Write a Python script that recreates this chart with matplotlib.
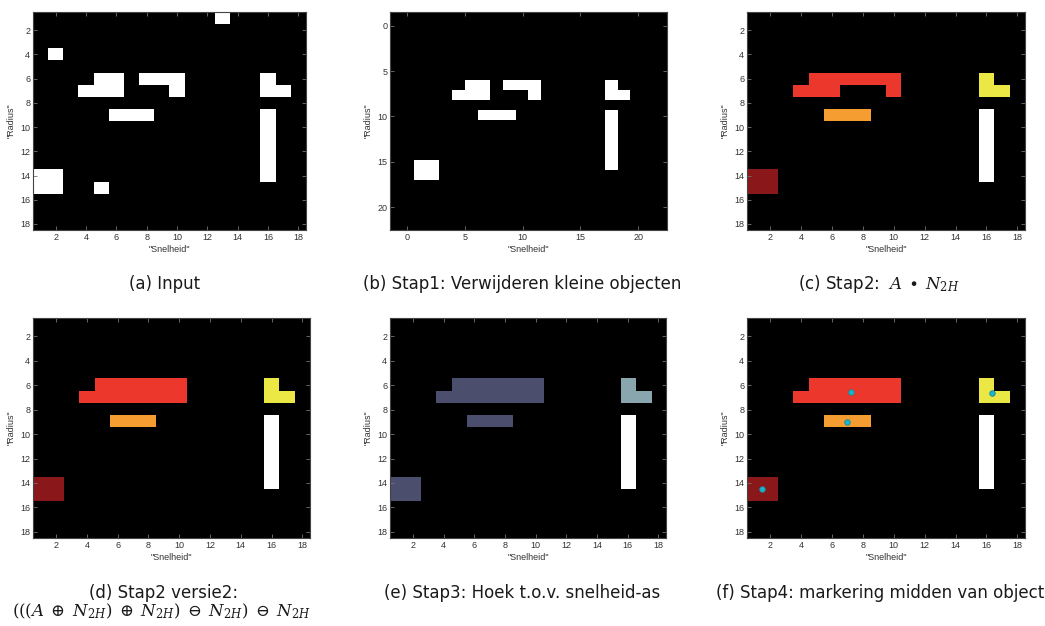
import matplotlib
matplotlib.use("Agg")
import matplotlib.pyplot as plt
import numpy as np
from matplotlib.colors import to_rgb

plt.rcParams['mathtext.fontset'] = 'dejavuserif'

# binary input image, 18 x 18 ('#' = object pixel)
input_rows = [
    "............#.....",
    "..................",
    "..................",
    ".#................",
    "..................",
    "....##.###.....#..",
    "...###...#.....##.",
    "..................",
    ".....###.......#..",
    "...............#..",
    "...............#..",
    "...............#..",
    "...............#..",
    "##.............#..",
    "##..#.............",
    "..................",
    "..................",
    "..................",
]
# single-pixel objects removed in step 1 (row, col), 1-based
small_objects = [(1, 13), (4, 2), (15, 5)]

# labelled objects after closing with N_2H
labels_c = [
    "..................",
    "..................",
    "..................",
    "..................",
    "..................",
    "....222222.....4..",
    "...222...2.....44.",
    "..................",
    ".....333.......5..",
    "...............5..",
    "...............5..",
    "...............5..",
    "...............5..",
    "11.............5..",
    "11................",
    "..................",
    "..................",
    "..................",
]
# labelled objects, version 2 (dilate twice, erode twice)
labels_d = [
    "..................",
    "..................",
    "..................",
    "..................",
    "..................",
    "....222222.....4..",
    "...2222222.....44.",
    "..................",
    ".....333.......5..",
    "...............5..",
    "...............5..",
    "...............5..",
    "...............5..",
    "11.............5..",
    "11................",
    "..................",
    "..................",
    "..................",
]
label_colors = ['#000000', '#8a171a', '#ec372c', '#f59d31', '#ebe845', '#ffffff']
# colours by angle to the speed axis
angle_colors = ['#000000', '#4b4e6c', '#4b4e6c', '#4b4e6c', '#89a6ae', '#ffffff']

captions = [
    "(a) Input",
    "(b) Stap1: Verwijderen kleine objecten",
    r"(c) Stap2:  $A\;\bullet\;N_{2H}$",
    "(d) Stap2 versie2:",
    "(e) Stap3: Hoek t.o.v. snelheid-as",
    "(f) Stap4: markering midden van object",
]
formula_d = r"$(((A\;\oplus\;N_{2H})\;\oplus\;N_{2H})\;\ominus\;N_{2H})\;\ominus\;N_{2H}$"


def to_labels(rows):
    return np.array([[0 if ch == '.' else (1 if ch == '#' else int(ch)) for ch in r] for r in rows])


def to_rgb_img(lab, colors):
    pal = np.array([to_rgb(c) for c in colors])
    return pal[lab]


A = to_labels(input_rows)
B = A.copy()
for r, c in small_objects:
    B[r - 1, c - 1] = 0
C = to_labels(labels_c)
D = to_labels(labels_d)

W, H = 1045, 626
fig = plt.figure(figsize=(W / 100, H / 100), dpi=100)

boxes = [(33, 12, 306, 230), (390, 12, 667, 230), (747, 12, 1025, 230),
         (33, 318, 310, 538), (390, 318, 666, 538), (747, 318, 1025, 538)]
cap_pos = [(165, 284), (522, 284), (879, 284), (164, 593), (522, 593), (880, 593)]

axes = []
for (x0, y0, x1, y1) in boxes:
    ax = fig.add_axes([x0 / W, 1 - y1 / H, (x1 - x0) / W, (y1 - y0) / H])
    ax.set_facecolor('black')
    axes.append(ax)

ext = (0.5, 18.5, 18.5, 0.5)
axes[0].imshow(A, cmap='gray', vmin=0, vmax=1, extent=ext, interpolation='nearest', aspect='auto')
# step 1 result is shown on a rescaled grid
s = 1.1
axes[1].imshow(B, cmap='gray', vmin=0, vmax=1, extent=(0.5 * s, 18.5 * s, 18.5 * s, 0.5 * s),
               interpolation='nearest', aspect='auto')
axes[2].imshow(to_rgb_img(C, label_colors), extent=ext, interpolation='nearest', aspect='auto')
axes[3].imshow(to_rgb_img(D, label_colors), extent=ext, interpolation='nearest', aspect='auto')
axes[4].imshow(to_rgb_img(D, angle_colors), extent=ext, interpolation='nearest', aspect='auto')
axes[5].imshow(to_rgb_img(D, label_colors), extent=ext, interpolation='nearest', aspect='auto')

# centroids of each object (the vertical bar is skipped)
for k in range(1, D.max()):
    rr, cc = np.nonzero(D == k)
    axes[5].plot(cc.mean() + 1, rr.mean() + 1, 'o', ms=4, mfc='#1bb5c9', mec='#178a9c', mew=0.6)

for i, ax in enumerate(axes):
    if i == 1:
        ax.set_xlim(-1.5, 22.5)
        ax.set_ylim(22.5, -1.5)
        ax.set_xticks(range(0, 21, 5))
        ax.set_yticks(range(0, 21, 5))
    else:
        ax.set_xlim(0.5, 18.5)
        ax.set_ylim(18.5, 0.5)
        ax.set_xticks(range(2, 19, 2))
        ax.set_yticks(range(2, 19, 2))
    ax.tick_params(direction='in', length=3, width=0.6, color='#777777', top=True, right=True,
                   labelsize=6.5, labelcolor='#333333', pad=2)
    for t in ax.get_xticklabels() + ax.get_yticklabels():
        t.set_fontfamily('Liberation Sans')
    for sp in ax.spines.values():
        sp.set_color('#444444')
        sp.set_linewidth(0.8)
    ax.set_xlabel('"Snelheid"', fontsize=6.5, color='#333333', family='Liberation Sans', labelpad=2)
    ax.set_ylabel('"Radius"', fontsize=6.5, color='#333333', family='Liberation Sans', labelpad=3)

for (cx, cy), txt in zip(cap_pos, captions):
    fig.text(cx / W, 1 - cy / H, txt, ha='center', va='center', fontsize=12, color='#1a1a1a')
fig.text(161 / W, 1 - 611 / H, formula_d, ha='center', va='center', fontsize=12, color='#1a1a1a')

plt.savefig("out.png", dpi=100)
